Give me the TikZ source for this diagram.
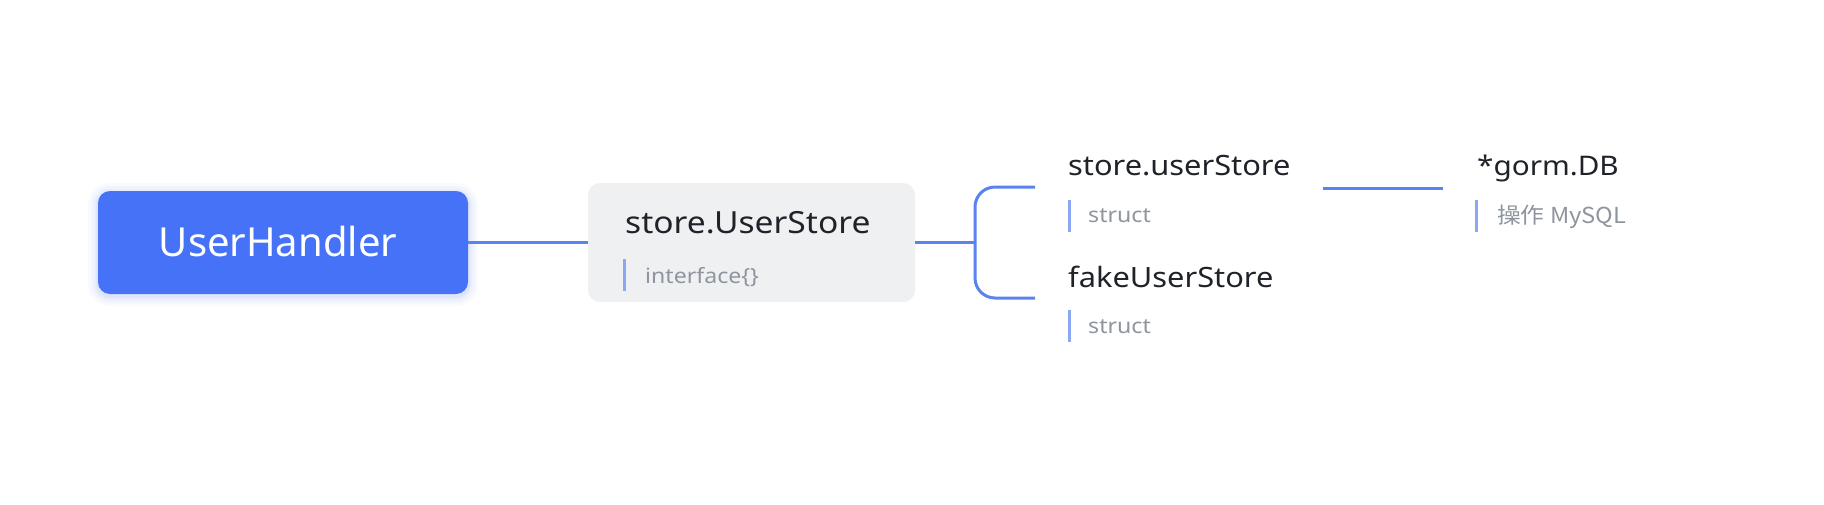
\documentclass[tikz,border=0pt]{standalone}
\usepackage{fontspec}
\setmainfont{Noto Sans}[FakeStretch=1.1]
\newfontfamily\rootfont{Noto Sans}
\newfontfamily\cjk{Noto Sans CJK SC}[FakeStretch=1.08]
\definecolor{rootblue}{RGB}{69,114,246}
\definecolor{linkblue}{RGB}{91,131,240}
\definecolor{barblue}{RGB}{140,168,245}
\definecolor{boxgray}{RGB}{239,240,242}
\definecolor{darktext}{RGB}{31,35,41}
\definecolor{graytext}{RGB}{143,149,158}
\tikzset{
  x=1pt, y=-1pt,
  link/.style={draw=linkblue, line width=3pt},
  bar/.style={draw=barblue, line width=3pt},
  title/.style={anchor=base west, inner sep=0pt, text=darktext, font=\fontsize{28}{30}\selectfont},
  sub/.style={anchor=base west, inner sep=0pt, text=graytext, font=\fontsize{21}{23}\selectfont},
}
\begin{document}
\begin{tikzpicture}
\useasboundingbox[fill=white] (0,0) rectangle (1824,504);
% glow of root
\foreach \g/\o in {10/0.03,7/0.04,4/0.05,2/0.06}{
  \fill[rootblue, opacity=\o, rounded corners=12+\g] (98-\g,193-\g) rectangle (468+\g,296+\g);
}
\node[fill=rootblue, rounded corners=12pt, minimum width=370pt, minimum height=103pt, inner sep=0pt] (uh) at (283,242.5) {};
\node[anchor=base, inner sep=0pt, text=white, font=\rootfont\fontsize{40}{42}\selectfont] (uht) at (278,256.7) {UserHandler};
\node[fill=boxgray, rounded corners=12pt, minimum width=327pt, minimum height=119pt, inner sep=0pt] (us) at (751.5,242.5) {};
\node[title, font=\fontsize{30.5}{32}\selectfont] (ust) at (625,233) {store.UserStore};
\node[sub] (uss) at (645,283) {interface\{\}};
\draw[bar] (624,259) -- (624,291);
% children
\node[title] (su) at (1068,175) {store.userStore};
\node[sub] (sus) at (1088,222) {struct};
\draw[bar] (1069,200) -- (1069,232);
\node[title] (fu) at (1068,287) {fakeUserStore};
\node[sub] (fus) at (1088,333) {struct};
\draw[bar] (1069,310) -- (1069,342);
\node[title, font=\fontsize{27}{29}\selectfont] (gd) at (1477,175) {*gorm.DB};
\node[sub, font=\cjk\fontsize{22}{24}\selectfont] (gds) at (1497,223) {操作 MySQL};
\draw[bar] (1476,200) -- (1476,232);
% connectors
\coordinate (j) at (975,242.5);
\coordinate (b1) at (1035,187);
\coordinate (b2) at (1035,298);
\coordinate (c1) at (1323,188);
\coordinate (c2) at (1443,188);
\draw[link] (uh.east) -- (us.west);
\draw[link] (us.east) -- (j);
\draw[link, rounded corners=20pt] (b1) -| (j) |- (b2);
\draw[link] (c1) -- (c2);
\end{tikzpicture}
\end{document}
